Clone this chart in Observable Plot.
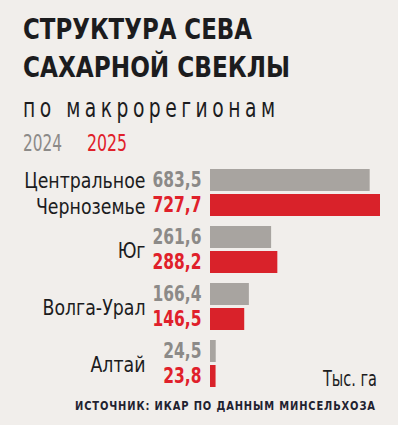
<!DOCTYPE html>
<html>
<head>
<meta charset="utf-8">
<script src="https://cdn.jsdelivr.net/npm/d3@7"></script>
<script src="https://cdn.jsdelivr.net/npm/@observablehq/plot@0.6"></script>
<style>
  html, body { margin: 0; padding: 0; }
  body { width: 398px; height: 425px; background: #f1eeeb; position: relative; overflow: hidden;
         font-family: "DejaVu Sans Condensed", "DejaVu Sans", sans-serif; color: #1c1c1e; }
  .t { position: absolute; white-space: nowrap; line-height: 1; display: inline-block; transform-origin: left top; }
  #chart { position: absolute; left: 0; top: 160px; }
</style>
</head>
<body>
<div class="t" id="title1" style="left:23px; top:14.5px; font-size:29px; font-weight:700;">СТРУКТУРА СЕВА</div>
<div class="t" id="title2" style="left:23px; top:53px; font-size:29px; font-weight:700;">САХАРНОЙ СВЕКЛЫ</div>
<div class="t" id="sub" style="left:23px; top:94.5px; font-size:26px;">по макрорегионам</div>
<div class="t" id="leg1" style="left:23px; top:131.5px; font-size:23px; color:#8c8a88;">2024</div>
<div class="t" id="leg2" style="left:87px; top:131.5px; font-size:23px; color:#e0202a;">2025</div>
<div class="t" id="unit" style="left:323px; top:369px; font-size:21px;">Тыс. га</div>
<div class="t" id="src" style="left:75px; top:401px; font-size:11.6px; font-weight:700; color:#1f2230;">ИСТОЧНИК: ИКАР ПО ДАННЫМ МИНСЕЛЬХОЗА</div>
<div id="chart"></div>
<script>
const regions = ["Центральное Черноземье", "Юг", "Волга-Урал", "Алтай"];
const regionLabels = ["Центральное\nЧерноземье", "Юг", "Волга-Урал", "Алтай"];
const years = ["2024", "2025"];
const values2024 = [683.5, 261.6, 166.4, 24.5];
const values2025 = [727.7, 288.2, 146.5, 23.8];
const yearColors = ["#a8a4a0", "#d9222a"];
const yearTextColors = ["#8c8a88", "#e0202a"];

const data = [];
regions.forEach((r, i) => {
  data.push({region: r, year: years[0], value: values2024[i]});
  data.push({region: r, year: years[1], value: values2025[i]});
});
const labels = regions.map((r, i) => ({region: r, label: regionLabels[i]}));
const fmt = v => d3.format(".1f")(v).replace(".", ",");
const textColor = d => yearTextColors[years.indexOf(d.year)];

const chart = Plot.plot({
  width: 398,
  height: 240,
  marginLeft: 210,
  marginRight: 18,
  marginTop: 8,
  marginBottom: 12,
  style: {background: "transparent", fontFamily: "'DejaVu Sans Condensed', 'DejaVu Sans', sans-serif"},
  x: {domain: [0, 727.7], axis: null},
  fy: {domain: regions, paddingInner: 0.177, paddingOuter: 0, axis: null},
  y: {domain: years, paddingInner: 0.14, paddingOuter: 0, axis: null},
  color: {domain: years, range: yearColors},
  marks: [
    Plot.barX(data, {x: "value", y: "year", fy: "region", fill: "year"}),
    Plot.text(data, {x: 0, y: "year", fy: "region", text: d => fmt(d.value), textAnchor: "end", dx: -9,
      fill: textColor, fontWeight: 700, fontSize: 20.5}),
    Plot.text(labels, {fy: "region", text: "label", frameAnchor: "left", textAnchor: "end", dx: -65,
      fontSize: 21, lineHeight: 1.21, fill: "#1c1c1e"})
  ]
});
document.getElementById("chart").appendChild(chart);

// condense SVG texts horizontally around their right edge (narrow typeface look)
chart.querySelectorAll("text").forEach(t => {
  const b = t.getBBox();
  const ax = b.x + b.width;
  const s = /\d/.test(t.textContent) ? 0.84 : 0.92;
  const prev = t.getAttribute("transform") || "";
  t.setAttribute("transform", `${prev} translate(${ax},0) scale(${s},1) translate(${-ax},0)`.trim());
});

function fit(id, target, squeeze) {
  const el = document.getElementById(id);
  const n = el.textContent.length;
  const w = el.getBoundingClientRect().width;
  if (squeeze == null) {
    el.style.transform = `scaleX(${target / w})`;
  } else {
    el.style.letterSpacing = ((target / squeeze - w) / (n - 1)) + "px";
    el.style.transform = `scaleX(${squeeze})`;
  }
}
fit("title1", 229);
fit("title2", 267);
fit("sub", 252, 0.8);
fit("leg1", 39);
fit("leg2", 40);
fit("unit", 54);
fit("src", 300, 0.95);
</script>
</body>
</html>
